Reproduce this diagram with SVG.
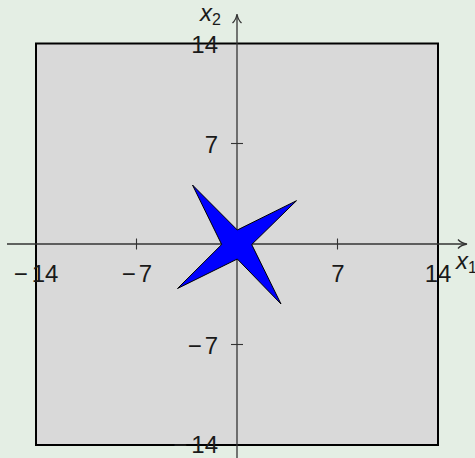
<svg xmlns="http://www.w3.org/2000/svg" width="475" height="458" viewBox="0 0 475 458">
<style>
.lbl{font-family:"Liberation Sans",Arial,sans-serif;font-size:24px;fill:#1a1a1a}
.ax{stroke:#333;stroke-width:1.3;fill:none}
.tick{stroke:#333;stroke-width:1.1}
.it{font-style:italic}
</style>
<rect x="0" y="0" width="475" height="458" fill="#e4eee4"/>
<g id="domain"><rect x="36" y="43.5" width="402" height="401.5" fill="#d9d9d9" stroke="#000" stroke-width="2"/></g>
<g id="connectors">
<line class="ax" x1="7" y1="244" x2="465" y2="244"/>
<path d="M458,239.5 Q461,243 467,244 Q461,245 458,248.5" fill="none" stroke="#333" stroke-width="1.3"/>
<line class="ax" x1="237" y1="474" x2="237" y2="16"/>
<path d="M232.5,23 Q236,20 237,14 Q238,20 241.5,23" fill="none" stroke="#333" stroke-width="1.3"/>
<line class="tick" x1="136.5" y1="238.5" x2="136.5" y2="249.5"/>
<line class="tick" x1="337.5" y1="238.5" x2="337.5" y2="249.5"/>
<line class="tick" x1="231" y1="143.5" x2="243" y2="143.5"/>
<line class="tick" x1="231" y1="344.5" x2="243" y2="344.5"/>
</g>
<g id="star"><polygon points="192.5,185 237.3,230 296.5,200.7 251.7,244.5 281,304 237.3,259 177.5,288.5 221.7,244.5" fill="#0000ff" stroke="#000" stroke-width="1" stroke-linejoin="miter"/></g>
<g id="labels">
<text class="lbl" x="36" y="282" text-anchor="middle">−<tspan dx="4">14</tspan></text>
<text class="lbl" x="137" y="282" text-anchor="middle">−<tspan dx="3">7</tspan></text>
<text class="lbl" x="338" y="282" text-anchor="middle">7</text>
<text class="lbl" x="438" y="282" text-anchor="middle">14</text>
<text class="lbl" x="218" y="52.5" text-anchor="end">14</text>
<text class="lbl" x="218" y="152.5" text-anchor="end">7</text>
<text class="lbl" x="218" y="353.5" text-anchor="end">−<tspan dx="3">7</tspan></text>
<text class="lbl" x="218" y="453" text-anchor="end">−<tspan dx="4">14</tspan></text>
<text class="lbl" x="200" y="21"><tspan class="it">x</tspan><tspan font-size="16" dy="4">2</tspan></text>
<text class="lbl" x="456" y="269"><tspan class="it">x</tspan><tspan font-size="16" dy="4">1</tspan></text>
</g>
</svg>
